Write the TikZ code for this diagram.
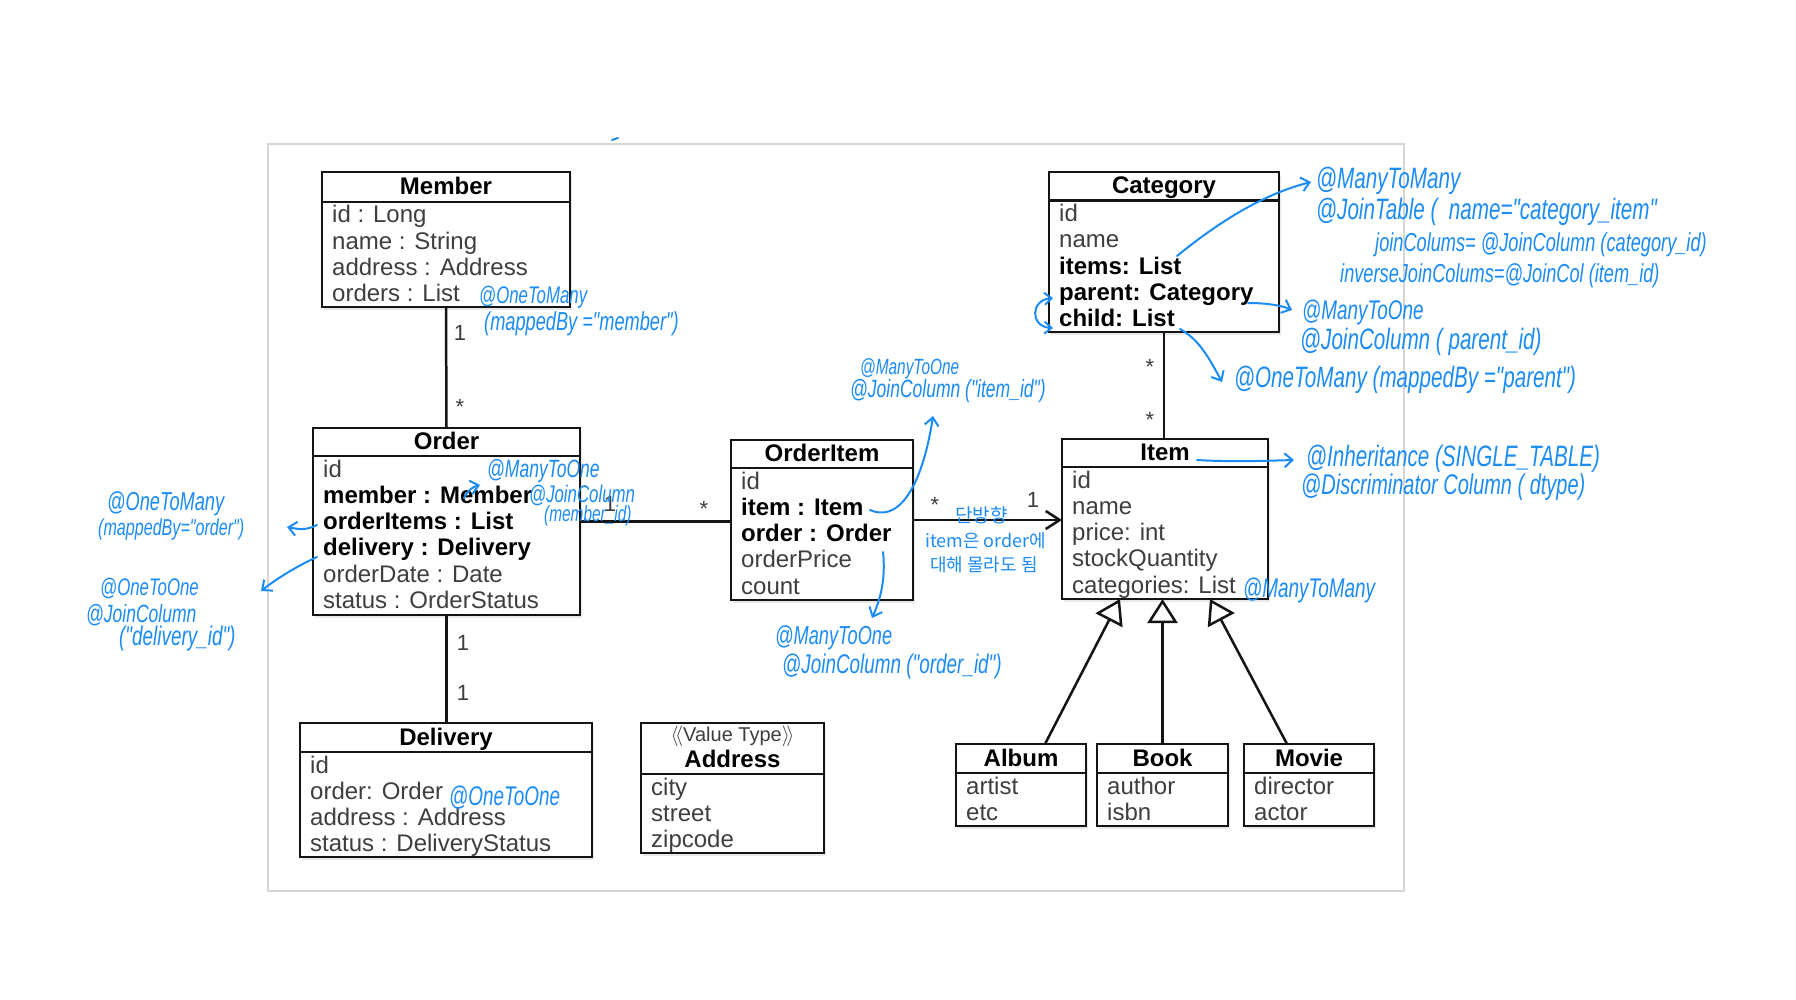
\documentclass[tikz,border=0pt]{standalone}
\usepackage{fontspec}
\setmainfont{Liberation Sans}
\newfontfamily\handfont[FakeStretch=0.7]{Liberation Sans}
\newfontfamily\krfont{Noto Sans CJK KR}
\usetikzlibrary{arrows.meta,calc,shadows}
\definecolor{hblue}{RGB}{28,140,245}
\definecolor{ink}{RGB}{20,20,20}
\definecolor{txtgray}{RGB}{62,62,62}
\definecolor{framegray}{RGB}{214,214,214}
\newcommand\hf[1]{\handfont\itshape\fontsize{#1}{#1}\selectfont}
\newcommand\bld[1]{{\bfseries\color{black}#1}}
\tikzset{
  cls/.style={draw=ink, line width=2.5pt, fill=white, inner sep=0pt, outer sep=0pt, rectangle,
    drop shadow={shadow xshift=2pt, shadow yshift=-3pt, opacity=0.18}},
  clsline/.style={draw=ink, line width=2.5pt},
  hdr/.style={font=\fontsize{24}{28}\selectfont\bfseries, text=black, inner sep=0pt, anchor=base},
  stereo/.style={font=\fontsize{20}{24}\selectfont, text=txtgray, inner sep=0pt, anchor=base},
  row/.style={font=\fontsize{24}{28}\selectfont, text=txtgray, inner sep=0pt, anchor=base west},
  mult/.style={font=\fontsize{22}{26}\selectfont, text=txtgray, inner sep=0pt},
  starlbl/.style={mult, yshift=-5pt},
  assoc/.style={draw=ink, line width=2.5pt},
  navarrow/.style={assoc, -{Straight Barb[length=14pt,width=18pt]}},
  inh/.style={assoc, -{Triangle[open, length=24pt, width=30pt, fill=white]}},
  hnote/.style={text=hblue, inner sep=0pt, anchor=west},
  krnote/.style={text=hblue, inner sep=0pt, anchor=west, font=\krfont\fontsize{18}{18}\selectfont},
  harrow/.style={draw=hblue, line width=2pt, line cap=round, -{Straight Barb[length=8pt,width=14pt]}},
  harrowboth/.style={draw=hblue, line width=2pt, line cap=round, {Straight Barb[length=7pt,width=12pt]}-{Straight Barb[length=7pt,width=12pt]}},
}
% #1 name #2 x #3 y(top, downwards) #4 width #5 height #6 header height #7 title #8 rows
\newcommand\classbox[8]{%
  \node[cls, anchor=north west, minimum width=#4pt, minimum height=#5pt] (#1) at (#2,-#3) {};
  \draw[clsline] ($(#1.north west)+(0,-#6)$) -- ($(#1.north east)+(0,-#6)$);
  \node[hdr] (#1-title) at ($(#1.north)+(0,-#6+7)$) {#7};
  \foreach \rw [count=\ri] in {#8}{
    \node[row] at ($(#1.north west)+(10,{-#6-21-(\ri-1)*26.3})$) {\rw};
  }
}
\begin{document}
\begin{tikzpicture}[x=1pt,y=1pt]
\useasboundingbox (0,0) rectangle (1796,-1000);
\fill[white] (0,0) rectangle (1796,-1000);
\draw[framegray, line width=2pt] (268,-144) rectangle (1404,-891);
\draw[hblue, line width=2pt, line cap=round] (612,-140) -- (618,-138);

% classes
\classbox{member}{322}{172}{248}{135}{30}{Member}{id : Long, name : String, address : Address, orders : List}
\classbox{order}{313}{428}{267}{187}{28}{Order}{id, \bld{member : Member}, \bld{orderItems : List}, \bld{delivery : Delivery}, orderDate : Date, status : OrderStatus}
\classbox{delivery}{300}{723}{292}{134}{29}{Delivery}{id, order: Order, address : Address, status : DeliveryStatus}
\classbox{address}{641}{723}{183}{130}{51}{Address}{city, street, zipcode}
\node[stereo] (addr-stereo) at ($(address.north)+(0,-18)$) {$\langle\!\langle$Value Type$\rangle\!\rangle$};
\classbox{orderitem}{731}{440}{182}{160}{28}{OrderItem}{id, \bld{item : Item}, \bld{order : Order}, orderPrice, count}
\classbox{category}{1049}{172}{230}{160}{28.5}{Category}{id, name, \bld{items: List}, \bld{parent: Category}, \bld{child: List}}
\classbox{item}{1062}{439}{206}{160}{28}{Item}{id, name, price: int, stockQuantity, categories: List}
\classbox{album}{956}{744}{130}{82}{29}{Album}{artist, etc}
\classbox{book}{1097}{744}{131}{82}{29}{Book}{author, isbn}
\classbox{movie}{1244}{744}{130}{82}{29}{Movie}{director, actor}

% associations
\draw[assoc] (member.south) -- (order.north);
\draw[assoc] (order.south) -- (order.south |- delivery.north);
\draw[assoc] (order.east) -- (order.east -| orderitem.west);
\draw[navarrow] (orderitem.east) -- (orderitem.east -| item.west);
\draw[assoc] (category.south) -- (category.south |- item.north);
\draw[inh] ([xshift=24pt]album.north) -- ([xshift=-45pt]item.south);
\draw[inh] (book.north) -- (book.north |- item.south);
\draw[inh] ([xshift=-22pt]movie.north) -- ([xshift=45pt]item.south);

% multiplicities
\node[mult] (m1) at (460,-333) {1};
\node[starlbl] (m2) at (460,-402) {*};
\node[mult] (m3) at (463,-643) {1};
\node[mult] (m4) at (463,-693) {1};
\node[mult] (m5) at (610,-504) {1};
\node[starlbl] (m6) at (704,-504) {*};
\node[starlbl] (m7) at (935,-500) {*};
\node[mult] (m8) at (1033,-500) {1};
\node[starlbl] (m9) at (1150,-362) {*};
\node[starlbl] (m10) at (1150,-415) {*};

% handwritten notes
\node[hnote, font=\hf{24}] (n1) at (479,-297) {@OneToMany};
\node[hnote, font=\hf{26}] (n2) at (484,-324) {(mappedBy ="member")};
\node[hnote, font=\hf{25}] (n3) at (487,-471) {@ManyToOne};
\node[hnote, font=\hf{24}] (n4) at (529,-495) {@JoinColumn};
\node[hnote, font=\hf{22}] (n5) at (544,-516) {(member\_id)};
\node[hnote, font=\hf{26}] (n6) at (107,-504) {@OneToMany};
\node[hnote, font=\hf{23}] (n7) at (98,-530) {(mappedBy="order")};
\node[hnote, font=\hf{24}] (n8) at (100,-588) {@OneToOne};
\node[hnote, font=\hf{25}] (n9) at (86,-615) {@JoinColumn};
\node[hnote, font=\hf{27}] (n10) at (119,-639) {("delivery\_id")};
\node[hnote, font=\hf{27}] (n11) at (449,-798) {@OneToOne};
\node[hnote, font=\hf{22}] (n12) at (860,-369) {@ManyToOne};
\node[hnote, font=\hf{25}] (n13) at (850,-391) {@JoinColumn ("item\_id")};
\node[hnote, font=\hf{26}] (n14) at (775,-638) {@ManyToOne};
\node[hnote, font=\hf{27}] (n15) at (782,-667) {@JoinColumn ("order\_id")};
\node[krnote, font=\krfont\fontsize{19}{19}\selectfont] (k1) at (955,-515) {단방향};
\node[krnote] (k2) at (925,-541) {item은 order에};
\node[krnote] (k3) at (930,-565) {대해 몰라도 됨};
\node[hnote, font=\hf{29.5}] (n17) at (1316,-181) {@ManyToMany};
\node[hnote, font=\hf{29.5}] (n18) at (1316,-212) {@JoinTable (\ \ name="category\_item"};
\node[hnote, font=\hf{26}] (n19) at (1375,-245) {joinColums= @JoinColumn (category\_id)};
\node[hnote, font=\hf{26}] (n20) at (1340,-276) {inverseJoinColums=@JoinCol (item\_id)};
\node[hnote, font=\hf{27}] (n21) at (1302,-313) {@ManyToOne};
\node[hnote, font=\hf{29.5}] (n22) at (1300,-342) {@JoinColumn ( parent\_id)};
\node[hnote, font=\hf{29.5}] (n23) at (1234,-380) {@OneToMany (mappedBy ="parent")};
\node[hnote, font=\hf{29.5}] (n24) at (1306,-459) {@Inheritance (SINGLE\_TABLE)};
\node[hnote, font=\hf{28.5}] (n25) at (1301,-487) {@Discriminator Column ( dtype)};
\node[hnote, font=\hf{27}] (n26) at (1243,-591) {@ManyToMany};

% handwritten arrow end points
\coordinate (aA1) at (464,-498); \coordinate (aA2) at (480,-485);
\coordinate (aB1) at (317,-525); \coordinate (aB2) at (287,-527);
\coordinate (aC1) at (317,-557); \coordinate (aC2) at (261,-591);
\coordinate (aD1) at (870,-510); \coordinate (aD2) at (933,-416);
\coordinate (aE1) at (883,-552); \coordinate (aE2) at (872,-618);
\coordinate (aF1) at (1177,-256); \coordinate (aF2) at (1311,-182);
\coordinate (aG1) at (1248,-303); \coordinate (aG2) at (1292,-310);
\coordinate (aH1) at (1180,-329); \coordinate (aH2) at (1222,-382);
\coordinate (aI1) at (1053,-298); \coordinate (aI2) at (1053,-328);
\coordinate (aJ1) at (1197,-460); \coordinate (aJ2) at (1294,-460);

\draw[harrow] (aA1) to[bend left=25] (aA2);
\draw[harrow] (aB1) .. controls (305,-531) and (298,-529) .. (aB2);
\draw[harrow] (aC1) .. controls (295,-567) and (275,-580) .. (aC2);
\draw[harrow] (aD1) .. controls (905,-525) and (925,-470) .. (aD2);
\draw[harrow] (aE1) .. controls (886,-580) and (880,-600) .. (aE2);
\draw[harrow] (aF1) .. controls (1215,-225) and (1260,-195) .. (aF2);
\draw[harrow] (aG1) .. controls (1265,-303) and (1280,-305) .. (aG2);
\draw[harrow] (aH1) .. controls (1200,-340) and (1210,-360) .. (aH2);
\draw[harrowboth] (aI1) .. controls (1030,-300) and (1030,-327) .. (aI2);
\draw[harrow] (aJ1) .. controls (1230,-462) and (1260,-461) .. (aJ2);
\end{tikzpicture}
\end{document}
